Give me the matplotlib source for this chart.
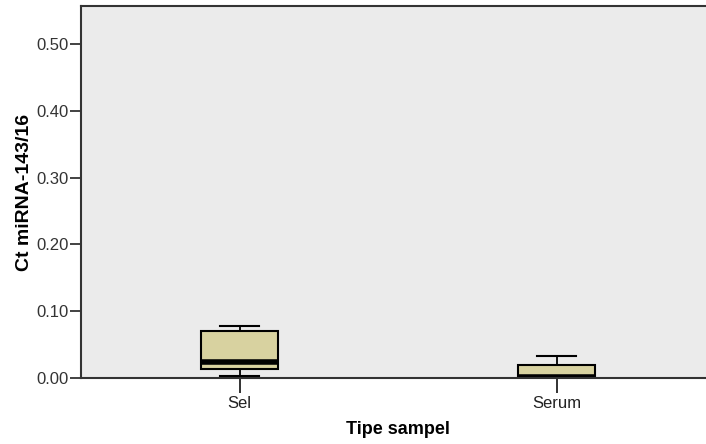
import matplotlib
matplotlib.use('Agg')
import matplotlib.pyplot as plt

plt.rcParams['font.family'] = ['Liberation Sans', 'DejaVu Sans']

# box summary per sample type
categories = ['Sel', 'Serum']
whisker_low = [0.003, 0.0]
q1 = [0.0135, 0.0015]
median = [0.024, 0.002]
q3 = [0.070, 0.0195]
whisker_high = [0.078, 0.033]

yticks = [0.0, 0.1, 0.2, 0.3, 0.4, 0.5]

stats = []
for i, name in enumerate(categories):
    stats.append({
        'label': name,
        'whislo': whisker_low[i],
        'q1': q1[i],
        'med': median[i],
        'q3': q3[i],
        'whishi': whisker_high[i],
    })

fig = plt.figure(figsize=(7.06, 4.44), dpi=100)
ax = fig.add_axes([81 / 706, 66 / 444, 634 / 706, 372 / 444])
ax.set_facecolor('#ebebeb')

ax.bxp(stats, positions=[1, 2], widths=0.243, showfliers=False,
       patch_artist=True,
       boxprops=dict(facecolor='#d8d2a0', edgecolor='black', linewidth=1.5),
       medianprops=dict(color='black', linewidth=4, solid_capstyle='butt'),
       whiskerprops=dict(color='black', linewidth=1.3),
       capprops=dict(color='black', linewidth=1.5),
       capwidths=0.125)

ax.set_xlim(0.5, 2.5)
ax.set_ylim(0, 0.557)
ax.set_yticks(yticks)
ax.set_yticklabels([f'{v:.2f}' for v in yticks], fontsize=12, color='#333333')
ax.set_xticks([1, 2])
ax.set_xticklabels(categories, fontsize=12, color='#222222')
ax.tick_params(axis='y', length=8, width=1.3, color='#333333', pad=1)
ax.tick_params(axis='x', length=11, width=1.3, color='#222222', pad=2)

for side in ['left', 'bottom', 'top']:
    ax.spines[side].set_color('#333333')
    ax.spines[side].set_linewidth(1.5)
ax.spines['right'].set_visible(False)

ax.set_ylabel('Ct miRNA-143/16', fontsize=14, fontweight='bold', labelpad=2)
ax.set_xlabel('Tipe sampel', fontsize=13, fontweight='bold', labelpad=7)

fig.savefig('out.png', dpi=100)
